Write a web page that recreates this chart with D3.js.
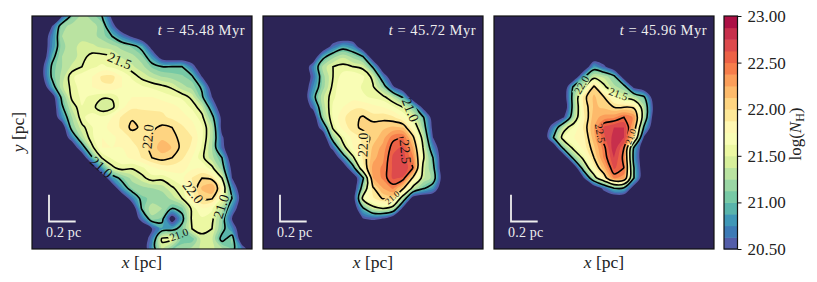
<!DOCTYPE html>
<html lang="en">
<head>
<meta charset="UTF-8">
<title>Column density maps</title>
<script src="https://d3js.org/d3.v7.min.js"></script>
<style>
    body { margin: 0; background: #fff; }
    svg { display: block; }
    text { font-family: "Liberation Serif", serif; }
    .domain { stroke: #000; }
</style>
</head>
<body>
<div id="chart"></div>
<script>
// log(N_H), 23 columns x 24 rows, o = empty background
const o = 20.2;
const valuesA = [
[o,o,o,20.5,21.1,21.3,21.2,21.0,20.4,o,o,o,o,o,o,o,o,o,o,o,o,o,o],
[o,o,20.5,21.2,21.3,21.35,21.3,21.2,20.65,o,o,o,o,o,o,o,o,o,o,o,o,o,o],
[o,o,20.7,21.25,21.35,21.35,21.3,21.2,21.0,20.7,20.45,o,o,o,o,o,o,o,o,o,o,o,o],
[o,o,20.75,21.2,21.35,21.4,21.4,21.35,21.3,21.2,21.1,20.9,20.35,o,o,o,o,o,o,o,o,o,o],
[o,o,20.9,21.25,21.3,21.45,21.55,21.55,21.52,21.35,21.3,21.15,20.8,20.3,o,o,o,o,o,o,o,o,o],
[o,20.4,21.05,21.25,21.4,21.5,21.6,21.65,21.6,21.52,21.4,21.3,21.1,21.0,21.0,21.0,20.65,o,o,o,o,o,o],
[o,20.4,21.05,21.3,21.6,21.7,21.75,21.9,21.92,21.75,21.6,21.45,21.35,21.25,21.2,21.15,21.05,20.5,o,o,o,o,o],
[o,o,20.85,21.35,21.55,21.7,21.75,21.85,21.85,21.75,21.7,21.65,21.6,21.55,21.47,21.3,21.2,20.95,20.3,o,o,o,o],
[o,o,20.3,21.1,21.55,21.65,21.6,21.52,21.52,21.7,21.75,21.75,21.75,21.7,21.65,21.6,21.45,21.05,20.5,o,o,o,o],
[o,o,o,20.95,21.4,21.62,21.55,21.4,21.45,21.72,21.85,21.85,21.85,21.85,21.8,21.72,21.6,21.4,20.8,o,o,o,o],
[o,o,o,20.75,21.25,21.6,21.68,21.65,21.75,21.9,21.98,21.95,21.92,21.9,21.85,21.8,21.72,21.55,21.1,20.4,o,o,o],
[o,o,o,20.25,21.15,21.45,21.62,21.7,21.8,21.9,22.04,21.97,21.97,22.03,22.0,21.9,21.8,21.65,21.3,20.4,o,o,o],
[o,o,o,o,20.7,21.3,21.6,21.75,21.72,21.8,21.9,21.95,22.03,22.1,22.08,21.92,21.88,21.65,21.3,20.55,o,o,o],
[o,o,o,o,o,20.8,21.45,21.75,21.75,21.75,21.82,21.92,22.05,22.2,22.12,21.95,21.85,21.6,21.25,20.6,o,o,o],
[o,o,o,o,o,o,20.95,21.52,21.65,21.7,21.78,21.88,22.0,22.06,22.0,21.9,21.75,21.55,21.3,21.0,o,o,o],
[o,o,o,o,o,o,o,20.85,21.45,21.58,21.52,21.6,21.72,21.8,21.82,21.78,21.72,21.75,21.55,21.15,20.4,o,o],
[o,o,o,o,o,o,o,o,20.8,21.1,21.3,21.45,21.58,21.55,21.65,21.72,21.88,22.0,21.95,21.5,20.5,o,o],
[o,o,o,o,o,o,o,o,o,20.8,21.15,21.2,21.25,21.3,21.47,21.6,21.85,22.15,22.25,21.8,20.8,o,o],
[o,o,o,o,o,o,o,o,o,o,20.7,21.1,21.15,21.15,21.3,21.5,21.8,22.03,22.02,21.6,21.0,20.3,o],
[o,o,o,o,o,o,o,o,o,o,o,21.05,21.35,21.25,21.0,21.1,21.55,21.75,21.65,21.3,20.75,o,o],
[o,o,o,o,o,o,o,o,o,o,o,20.65,21.2,21.1,20.3,20.9,21.55,21.6,21.55,21.15,20.5,o,o],
[o,o,o,o,o,o,o,o,o,o,o,o,20.5,20.85,20.9,21.1,21.5,21.55,21.5,21.1,20.75,o,o],
[o,o,o,o,o,o,o,o,o,o,o,o,20.7,21.55,21.55,21.05,21.05,21.45,21.4,20.9,21.15,o,o],
[o,o,o,o,o,o,o,o,o,o,o,o,20.8,21.4,21.1,21.2,21.3,21.4,21.4,21.3,21.1,20.7,o]
];
const valuesB = [
[o,o,o,o,o,o,o,o,o,o,o,o,o,o,o,o,o,o,o,o,o,o,o],
[o,o,o,o,o,o,o,o,o,o,o,o,o,o,o,o,o,o,o,o,o,o,o],
[o,o,o,o,o,o,o,o,o,o,o,o,o,o,o,o,o,o,o,o,o,o,o],
[o,o,o,o,o,o,o,20.63,20.87,20.75,o,o,o,o,o,o,o,o,o,o,o,o,o],
[o,o,o,o,o,o,20.9,21.2,21.35,21.2,21.0,o,o,o,o,o,o,o,o,o,o,o,o],
[o,o,o,o,o,20.7,21.3,21.5,21.55,21.5,21.45,20.95,o,o,o,o,o,o,o,o,o,o,o],
[o,o,o,o,o,20.6,21.2,21.5,21.7,21.75,21.65,21.45,20.75,o,o,o,o,o,o,o,o,o,o],
[o,o,o,o,o,20.75,21.2,21.55,21.75,21.72,21.6,21.52,21.2,20.55,o,o,o,o,o,o,o,o,o],
[o,o,o,o,o,20.9,21.35,21.6,21.72,21.7,21.65,21.6,21.55,21.35,20.95,o,o,o,o,o,o,o,o],
[o,o,o,o,o,20.6,21.3,21.65,21.75,21.85,21.85,21.8,21.75,21.65,21.5,21.1,20.4,o,o,o,o,o,o],
[o,o,o,o,o,o,21.2,21.65,21.85,21.95,22.02,21.92,21.95,21.9,21.75,21.5,21.05,20.3,o,o,o,o,o],
[o,o,o,o,o,o,20.7,21.55,21.8,21.95,22.04,22.1,22.1,22.15,22.12,21.75,21.2,20.4,o,o,o,o,o],
[o,o,o,o,o,o,o,21.2,21.6,21.8,21.9,22.05,22.2,22.45,22.5,22.05,21.4,20.5,o,o,o,o,o],
[o,o,o,o,o,o,o,20.6,21.4,21.75,21.9,22.15,22.3,22.58,22.65,22.25,21.5,20.75,o,o,o,o,o],
[o,o,o,o,o,o,o,o,20.75,21.45,21.9,22.2,22.35,22.65,22.7,22.4,21.55,21.0,o,o,o,o,o],
[o,o,o,o,o,o,o,o,o,20.85,21.8,22.3,22.4,22.65,22.75,22.5,21.45,21.1,o,o,o,o,o],
[o,o,o,o,o,o,o,o,o,o,20.95,22.25,22.4,22.65,22.6,21.95,21.4,21.2,20.3,o,o,o,o],
[o,o,o,o,o,o,o,o,o,o,21.2,21.97,22.25,22.4,22.05,21.4,21.05,20.8,o,o,o,o,o],
[o,o,o,o,o,o,o,o,o,20.3,21.6,21.85,22.02,22.02,21.3,20.3,o,o,o,o,o,o,o],
[o,o,o,o,o,o,o,o,o,o,20.95,21.4,21.5,21.35,20.4,o,o,o,o,o,o,o,o],
[o,o,o,o,o,o,o,o,o,o,20.5,20.55,20.5,o,o,o,o,o,o,o,o,o,o],
[o,o,o,o,o,o,o,o,o,o,o,o,o,o,o,o,o,o,o,o,o,o,o],
[o,o,o,o,o,o,o,o,o,o,o,o,o,o,o,o,o,o,o,o,o,o,o],
[o,o,o,o,o,o,o,o,o,o,o,o,o,o,o,o,o,o,o,o,o,o,o]
];
const valuesC = [
[o,o,o,o,o,o,o,o,o,o,o,o,o,o,o,o,o,o,o,o,o,o,o],
[o,o,o,o,o,o,o,o,o,o,o,o,o,o,o,o,o,o,o,o,o,o,o],
[o,o,o,o,o,o,o,o,o,o,o,o,o,o,o,o,o,o,o,o,o,o,o],
[o,o,o,o,o,o,o,o,o,o,o,o,o,o,o,o,o,o,o,o,o,o,o],
[o,o,o,o,o,o,o,o,o,o,o,o,o,o,o,o,o,o,o,o,o,o,o],
[o,o,o,o,o,o,o,o,o,o,20.83,20.57,o,o,o,o,o,o,o,o,o,o,o],
[o,o,o,o,o,o,o,o,o,20.95,21.4,21.35,21.1,20.3,o,o,o,o,o,o,o,o,o],
[o,o,o,o,o,o,o,o,21.1,21.45,22.05,21.55,21.3,21.15,20.4,o,o,o,o,o,o,o,o],
[o,o,o,o,o,o,o,20.3,21.2,21.95,22.15,22.0,21.7,21.45,21.3,21.05,20.25,o,o,o,o,o,o],
[o,o,o,o,o,o,o,o,21.2,21.9,22.15,22.1,22.0,22.0,21.95,21.3,20.4,o,o,o,o,o,o],
[o,o,o,o,o,o,o,20.5,21.3,21.85,22.2,22.3,22.35,22.5,22.35,21.3,20.3,o,o,o,o,o,o],
[o,o,o,o,o,o,20.75,21.4,21.65,21.9,22.25,22.65,22.75,22.75,22.2,20.95,o,o,o,o,o,o,o],
[o,o,o,o,o,o,21.05,21.65,21.75,21.85,22.2,22.6,22.8,22.75,22.0,20.45,o,o,o,o,o,o,o],
[o,o,o,o,o,o,o,21.15,21.6,21.8,22.1,22.45,22.85,22.5,20.95,o,o,o,o,o,o,o,o],
[o,o,o,o,o,o,o,o,21.15,21.6,22.0,22.4,22.75,22.45,20.85,o,o,o,o,o,o,o,o],
[o,o,o,o,o,o,o,o,o,21.25,21.8,22.2,22.65,22.5,21.0,o,o,o,o,o,o,o,o],
[o,o,o,o,o,o,o,o,o,20.5,21.35,21.85,22.4,22.3,21.0,o,o,o,o,o,o,o,o],
[o,o,o,o,o,o,o,o,o,o,o,20.6,21.0,20.95,20.3,o,o,o,o,o,o,o,o],
[o,o,o,o,o,o,o,o,o,o,o,o,o,o,o,o,o,o,o,o,o,o,o],
[o,o,o,o,o,o,o,o,o,o,o,o,o,o,o,o,o,o,o,o,o,o,o],
[o,o,o,o,o,o,o,o,o,o,o,o,o,o,o,o,o,o,o,o,o,o,o],
[o,o,o,o,o,o,o,o,o,o,o,o,o,o,o,o,o,o,o,o,o,o,o],
[o,o,o,o,o,o,o,o,o,o,o,o,o,o,o,o,o,o,o,o,o,o,o],
[o,o,o,o,o,o,o,o,o,o,o,o,o,o,o,o,o,o,o,o,o,o,o]
];
const times = ["45.48", "45.72", "45.96"];
const colorTicks = [20.5, 21, 21.5, 22, 22.5, 23];
const lineLevels = [21, 21.5, 22, 22.5];
const spectral = ["#5e4fa2","#3288bd","#66c2a5","#abdda4","#e6f598","#ffffbf","#fee08b","#fdae61","#f46d43","#d53e4f","#9e0142"];

// where matplotlib put the contour labels: [text, column, row, angle, font size]
const labelsA = [["21.5",9.27,4.93,22,14],["21.0",7.43,15.43,42,14],["22.0",12.1,12.4,-85,14],["22.0",16.6,17.9,52,14],["21.0",19.43,19.3,-72,14],["21.0",15.2,22.1,-20,11]];
const labelsB = [["21.0",15.23,9.77,68,14],["22.0",10.5,13.22,-88,14],["22.5",14.73,13.88,85,14],["21.0",13.43,18.42,-40,9]];
const labelsC = [["22.0",9.27,7.3,-60,11],["21.5",12.93,8.22,20,11],["22.5",11.1,12.07,80,11],["21.0",14.17,12.4,-70,9]];

const width = 817, height = 282;
const top_ = 16, bottom = 249, panelW = 220;
const lefts = [32, 263, 494];
const cols = 23, rows = 24;
const navy = "#2c2456";

const levels = d3.range(20).map(i => 20.5 + i * 0.125);
const cmap = d3.scaleLinear().domain(spectral.map((c, i) => i / 10)).range(spectral).interpolate(d3.interpolateRgb);
const bandColor = i => cmap((i + 0.5) / 20);

const svg = d3.select("#chart").append("svg").attr("width", width).attr("height", height);

function ringPath(rings, x, y) {
    const line = d3.line().x(p => x(p[0])).y(p => y(p[1])).curve(d3.curveCatmullRomClosed.alpha(0.5));
    return rings.map(r => line(r.slice(0, -1))).join("");
}

function drawPanel(index, values, labels) {
    const left = lefts[index];
    const flat = values.flat();
    const x = d3.scaleLinear().domain([0.5, cols - 0.5]).range([left, left + panelW]);
    const y = d3.scaleLinear().domain([0.5, rows - 0.5]).range([top_, bottom]);
    const pc = d3.scaleLinear().domain([0, 0.2]).range([0, 26.7]);

    const g = svg.append("g");
    const clipId = "clip" + index, maskId = "mask" + index;
    g.append("clipPath").attr("id", clipId).append("rect")
        .attr("x", left).attr("y", top_).attr("width", panelW).attr("height", bottom - top_);

    const inner = g.append("g").attr("clip-path", `url(#${clipId})`);
    inner.append("rect").attr("x", left).attr("y", top_).attr("width", panelW).attr("height", bottom - top_).attr("fill", navy);

    const contours = d3.contours().size([cols, rows]);
    levels.forEach((lv, i) => {
        const c = contours.contour(flat, lv);
        inner.append("path")
            .attr("d", c.coordinates.map(poly => ringPath(poly, x, y)).join(""))
            .attr("fill", bandColor(i))
            .attr("fill-rule", "evenodd");
    });

    // gaps in the contour lines under the labels
    const mask = g.append("mask").attr("id", maskId).attr("maskUnits", "userSpaceOnUse")
        .attr("x", left).attr("y", top_).attr("width", panelW).attr("height", bottom - top_);
    mask.append("rect").attr("x", left).attr("y", top_).attr("width", panelW).attr("height", bottom - top_).attr("fill", "#fff");
    labels.forEach(l => {
        const w = l[4] * 2, h = l[4] * 0.9;
        mask.append("rect").attr("x", -w / 2).attr("y", -h / 2).attr("width", w).attr("height", h).attr("fill", "#000")
            .attr("transform", `translate(${x(l[1])},${y(l[2])}) rotate(${l[3]})`);
    });

    const lineG = inner.append("g").attr("mask", `url(#${maskId})`);
    lineLevels.forEach(lv => {
        const c = contours.contour(flat, lv);
        lineG.append("path")
            .attr("d", c.coordinates.map(poly => ringPath(poly, x, y)).join(""))
            .attr("fill", "none").attr("stroke", "#000").attr("stroke-width", 1.6);
    });

    labels.forEach(l => {
        inner.append("text")
            .attr("transform", `translate(${x(l[1])},${y(l[2])}) rotate(${l[3]})`)
            .attr("text-anchor", "middle").attr("dy", "0.33em")
            .attr("font-size", l[4]).attr("fill", "#111").text(l[0]);
    });

    // time stamp
    const stamp = g.append("text").attr("x", left + panelW - 7).attr("y", 35)
        .attr("text-anchor", "end").attr("fill", "#eee").attr("font-size", 14.5).attr("letter-spacing", 0.5);
    stamp.append("tspan").attr("font-style", "italic").text("t");
    stamp.append("tspan").text(" = " + times[index] + " Myr");

    // scale bar
    const bx = left + 17, by = 221.5;
    g.append("path")
        .attr("d", d3.line()([[bx, by - pc(0.2)], [bx, by], [bx + pc(0.2), by]]))
        .attr("fill", "none").attr("stroke", "#eee").attr("stroke-width", 1.8);
    g.append("text").attr("x", left + 14).attr("y", 237).attr("fill", "#eee")
        .attr("font-size", 14).attr("letter-spacing", 0.2).text("0.2 pc");

    // frame and axis label
    g.append("rect").attr("x", left).attr("y", top_).attr("width", panelW).attr("height", bottom - top_)
        .attr("fill", "none").attr("stroke", "#111").attr("stroke-width", 1.2);

    const xl = g.append("text").attr("x", left + panelW / 2).attr("y", 268).attr("text-anchor", "middle").attr("font-size", 17.5).attr("fill", "#222");
    xl.append("tspan").attr("font-style", "italic").text("x");
    xl.append("tspan").text(" [pc]");
}

drawPanel(0, valuesA, labelsA);
drawPanel(1, valuesB, labelsB);
drawPanel(2, valuesC, labelsC);

// y label
const yl = svg.append("text").attr("transform", "translate(24,132) rotate(-90)")
    .attr("text-anchor", "middle").attr("font-size", 17.5).attr("fill", "#222");
yl.append("tspan").attr("font-style", "italic").text("y");
yl.append("tspan").text(" [pc]");

// colorbar
const cbLeft = 724, cbW = 13.5;
const cy = d3.scaleLinear().domain([20.5, 23]).range([bottom, top_]);
svg.append("g").selectAll("rect").data(levels).join("rect")
    .attr("x", cbLeft).attr("width", cbW)
    .attr("y", d => cy(d + 0.125)).attr("height", d => cy(d) - cy(d + 0.125) + 0.5)
    .attr("fill", (d, i) => bandColor(i));
svg.append("rect").attr("x", cbLeft).attr("y", top_).attr("width", cbW).attr("height", bottom - top_)
    .attr("fill", "none").attr("stroke", "#111").attr("stroke-width", 1.2);
const cbAxis = svg.append("g").attr("transform", `translate(${cbLeft + cbW},0)`)
    .call(d3.axisRight(cy).tickValues(colorTicks).tickFormat(d3.format(".2f")).tickSize(4).tickPadding(6));
cbAxis.select(".domain").remove();
cbAxis.selectAll("text").attr("font-family", "Liberation Serif").attr("font-size", 17).attr("fill", "#222");
cbAxis.selectAll("line").attr("stroke", "#111");

const cl = svg.append("text").attr("transform", "translate(801,134) rotate(-90)")
    .attr("text-anchor", "middle").attr("font-size", 17).attr("fill", "#222");
cl.append("tspan").text("log(");
cl.append("tspan").attr("font-style", "italic").text("N");
cl.append("tspan").attr("font-size", 12).attr("dy", 3).text("H");
cl.append("tspan").attr("dy", -3).text(")");
</script>
</body>
</html>
